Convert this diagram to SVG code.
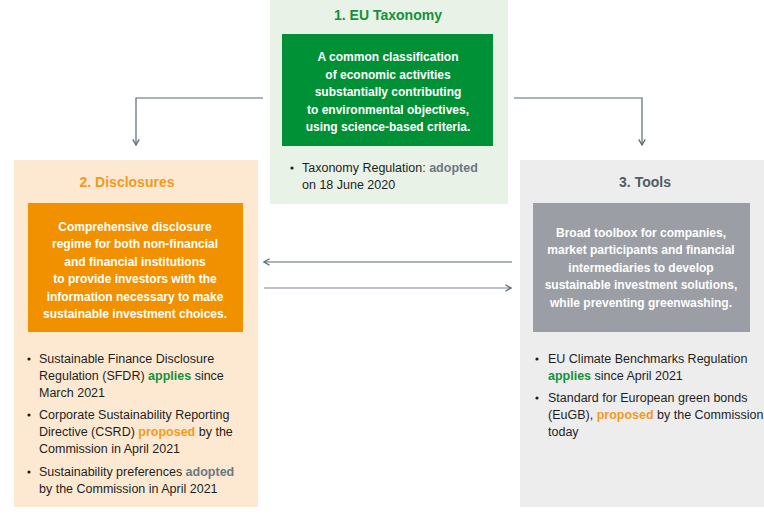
<svg xmlns="http://www.w3.org/2000/svg" width="764" height="516" viewBox="0 0 764 516">
<defs>
<style>
.title{font-family:"Liberation Sans",Arial,sans-serif;font-size:14px;font-weight:bold;text-anchor:middle}
.box{font-family:"Liberation Sans",Arial,sans-serif;font-size:12px;font-weight:bold;fill:#ffffff;text-anchor:middle}
.bul{font-family:"Liberation Sans",Arial,sans-serif;font-size:12.5px;fill:#1e1e1e}
.g{fill:#14913c;font-weight:bold}
.o{fill:#f39a1e;font-weight:bold}
.s{fill:#6b7785;font-weight:bold}
.conn{fill:none;stroke:#5b6876;stroke-width:1.2}
</style>
<marker id="ah" viewBox="0 0 10 10" refX="9" refY="5" markerWidth="8" markerHeight="8" orient="auto" markerUnits="userSpaceOnUse">
<path d="M2,1 L9,5 L2,9" fill="none" stroke="#5b6876" stroke-width="1.6"/>
</marker>
</defs>
<rect width="764" height="516" fill="#ffffff"/>

<g id="node-taxonomy">
<rect x="270" y="0" width="238" height="204" fill="#e8f2e6"/>
<text class="title" x="388" y="20" fill="#14913c">1. EU Taxonomy</text>
<rect x="282" y="34" width="211" height="112" fill="#009036"/>
<text class="box" x="388" y="61">A common classification</text>
<text class="box" x="388" y="79">of economic activities</text>
<text class="box" x="388" y="96">substantially contributing</text>
<text class="box" x="388" y="114">to environmental objectives,</text>
<text class="box" x="388" y="131">using science-based criteria.</text>
<circle cx="292" cy="168" r="1.6" fill="#1e1e1e"/>
<text class="bul" x="302" y="172">Taxonomy Regulation: <tspan class="s">adopted</tspan></text>
<text class="bul" x="302" y="189">on 18 June 2020</text>
</g>

<g id="node-disclosures">
<rect x="14" y="160" width="244" height="347" fill="#fde9d1"/>
<text class="title" x="127" y="187" fill="#f39a1e">2. Disclosures</text>
<rect x="28" y="203" width="215" height="129" fill="#f29100"/>
<text class="box" x="135" y="231">Comprehensive disclosure</text>
<text class="box" x="135" y="248">regime for both non-financial</text>
<text class="box" x="135" y="266">and financial institutions</text>
<text class="box" x="135" y="283">to provide investors with the</text>
<text class="box" x="135" y="301">information necessary to make</text>
<text class="box" x="135" y="318">sustainable investment choices.</text>
<circle cx="29" cy="359" r="1.6" fill="#1e1e1e"/>
<text class="bul" x="39" y="363">Sustainable Finance Disclosure</text>
<text class="bul" x="39" y="380">Regulation (SFDR) <tspan class="g">applies</tspan> since</text>
<text class="bul" x="39" y="397">March 2021</text>
<circle cx="29" cy="415" r="1.6" fill="#1e1e1e"/>
<text class="bul" x="39" y="419">Corporate Sustainability Reporting</text>
<text class="bul" x="39" y="436">Directive (CSRD) <tspan class="o">proposed</tspan> by the</text>
<text class="bul" x="39" y="453">Commission in April 2021</text>
<circle cx="29" cy="472" r="1.6" fill="#1e1e1e"/>
<text class="bul" x="39" y="476">Sustainability preferences <tspan class="s">adopted</tspan></text>
<text class="bul" x="39" y="493">by the Commission in April 2021</text>
</g>

<g id="node-tools">
<rect x="520" y="160" width="244" height="347" fill="#ededed"/>
<text class="title" x="645" y="187" fill="#4f5b66">3. Tools</text>
<rect x="533" y="203" width="217" height="129" fill="#9c9ea6"/>
<text class="box" x="641" y="237">Broad toolbox for companies,</text>
<text class="box" x="641" y="254">market participants and financial</text>
<text class="box" x="641" y="272">intermediaries to develop</text>
<text class="box" x="641" y="289">sustainable investment solutions,</text>
<text class="box" x="641" y="307">while preventing greenwashing.</text>
<circle cx="537" cy="359" r="1.6" fill="#1e1e1e"/>
<text class="bul" x="548" y="363">EU Climate Benchmarks Regulation</text>
<text class="bul" x="548" y="380"><tspan class="g">applies</tspan> since April 2021</text>
<circle cx="537" cy="398" r="1.6" fill="#1e1e1e"/>
<text class="bul" x="548" y="402">Standard for European green bonds</text>
<text class="bul" x="548" y="419">(EuGB), <tspan class="o">proposed</tspan> by the Commission</text>
<text class="bul" x="548" y="436">today</text>
</g>

<g id="connectors">
<path class="conn" d="M263,98 H136 V145" marker-end="url(#ah)"/>
<path class="conn" d="M514,98 H642 V145" marker-end="url(#ah)"/>
<path class="conn" d="M512,262 H264" marker-end="url(#ah)"/>
<path class="conn" d="M264,288 H511" style="stroke:#a9aeb6;stroke-width:1.6" marker-end="url(#ah)"/>
</g>
</svg>
